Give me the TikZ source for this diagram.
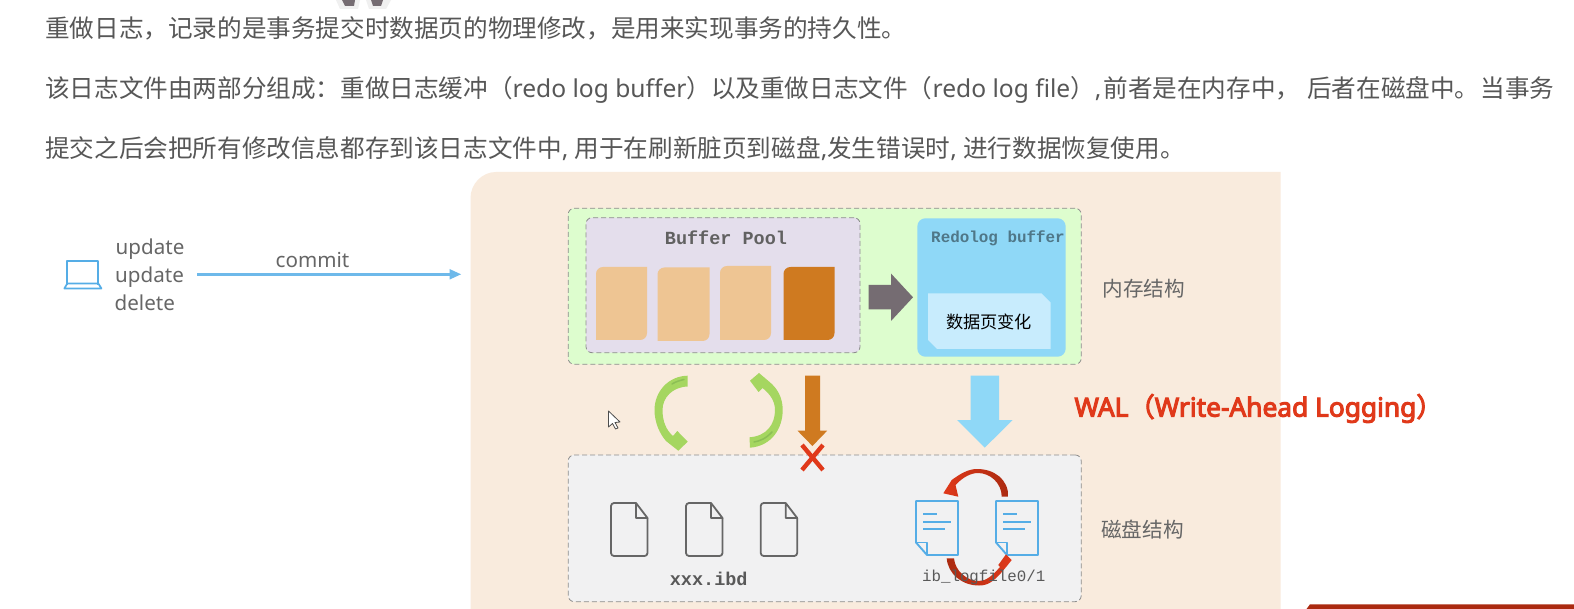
\documentclass[tikz,border=0pt]{standalone}
\usepackage{fontspec}
\setmainfont{Noto Sans}
\setmonofont{Liberation Mono}
\newfontfamily\cjk{Noto Sans CJK SC}
\newfontfamily\walfont[FakeBold=4]{Noto Sans}
\newfontfamily\walcjk[FakeBold=4]{Noto Sans CJK SC}
\definecolor{peach}{HTML}{F9EBDD}
\definecolor{memgreen}{HTML}{DDFDCE}
\definecolor{poolbg}{HTML}{E4DEEC}
\definecolor{pagel}{HTML}{EEC593}
\definecolor{paged}{HTML}{CF7A20}
\definecolor{skyb}{HTML}{8FD8F7}
\definecolor{skyl}{HTML}{C8ECFD}
\definecolor{diskbg}{HTML}{F1F1F2}
\definecolor{dashg}{HTML}{8C8C8C}
\definecolor{txtg}{HTML}{666666}
\definecolor{iconb}{HTML}{55ADE6}
\definecolor{leaf}{HTML}{A5D660}
\definecolor{leafd}{HTML}{8CBF55}
\definecolor{redx}{HTML}{E0391A}
\definecolor{redd}{HTML}{AB2A10}
\definecolor{greyarrow}{HTML}{756C72}
\tikzset{
  para/.style={anchor=base west,inner sep=0pt,text=txtg!85!black,font=\fontsize{24.6}{30}\selectfont},
  sidelabel/.style={anchor=west,inner sep=0pt,text=txtg,font=\cjk\fontsize{20.6}{24}\selectfont},
  optext/.style={anchor=base west,inner sep=0pt,text=txtg,font=\fontsize{20.6}{24}\selectfont},
  dashbox/.style={draw=dashg,line width=.8pt,dash pattern=on 5pt off 3pt,rounded corners=6pt},
  docline/.style={draw=iconb,line width=2pt},
  fileicon/.style={draw=black!60,line width=1.8pt,line join=round},
}
\newcommand{\pageshape}[5]{% x0 y0 x1 y1 colour
  \fill[#5] (#1,#4) -- (#3-7,#4) .. controls (#3-3,#4) and (#3,#4-3) .. (#3,#4-7) -- (#3,#2) -- (#1+7,#2) .. controls (#1+3,#2) and (#1,#2+3) .. (#1,#2+7) -- cycle;}
\newcommand{\fileshape}[1]{%
  \draw[fileicon,rounded corners=3pt] (#1+25,503) -- (#1,503) -- (#1,556) -- (#1+36.5,556) -- (#1+36.5,518);
  \draw[fileicon] (#1+25,503) -- (#1+36.5,518) -- (#1+25,518) -- cycle;}
\newcommand{\docshape}[1]{%
  \draw[iconb,line width=1.9pt,line join=round] (#1,501) -- (#1+42,501) -- (#1+42,555) -- (#1+11,555) -- (#1,542.5) -- cycle;
  \draw[iconb,line width=1.9pt,line join=round] (#1,542.5) -- (#1+11,542.5) -- (#1+11,555);
  \draw[docline] (#1+7,514) -- (#1+21,514);
  \draw[docline] (#1+7,521.5) -- (#1+35,521.5);
  \draw[docline] (#1+7,529) -- (#1+29,529);}
\begin{document}
\begin{tikzpicture}[x=1pt,y=-1pt]
\useasboundingbox (0,0) rectangle (1574,609);
\fill[white] (0,0) rectangle (1574,609);

% partial cursor at the top edge
\fill[black!6] (336,0) -- (340,9) -- (358,9) -- (360,0) -- cycle;
\fill[black!6] (366,0) -- (369,9) -- (386,9) -- (391,0) -- cycle;
\fill[greyarrow] (342,0) -- (345,6) -- (354,6) -- (355,0) -- cycle;
\fill[greyarrow] (371,0) -- (373,6) -- (381,6) -- (383,0) -- cycle;

% paragraphs
\node[para] (l1) at (45,38) {\cjk 重做日志，记录的是事务提交时数据页的物理修改，是用来实现事务的持久性。};
\node[para] (l2) at (45,98) {\cjk 该日志文件由两部分组成：重做日志缓冲（\normalfont redo log buffer\cjk ）以及重做日志文件（\normalfont redo log file\cjk ）\normalfont,\hspace{2pt}\cjk 前者是在内存中，\hspace{7pt}后者在磁盘中。\hspace{1pt}当事务};
\node[para] (l3) at (45,158) {\cjk 提交之后会把所有修改信息都存到该日志文件中\normalfont, \cjk 用于在刷新脏页到磁盘\normalfont,\cjk 发生错误时\normalfont, \cjk 进行数据恢复使用。};

% backdrop
\fill[peach] (470.5,609) -- (470.5,198) .. controls (470.5,184) and (482,172) .. (496,172) -- (1280.5,172) -- (1280.5,609) -- cycle;

% memory structure
\node[dashbox,fill=memgreen,minimum width=513pt,minimum height=156pt,inner sep=0pt] (mem) at (824.7,286.3) {};
\node[dashbox,fill=poolbg,minimum width=274pt,minimum height=135pt,inner sep=0pt] (pool) at (723,285.2) {};
\node[inner sep=0pt,text=black!62,font=\ttfamily\bfseries\fontsize{18.5}{22}\selectfont] (pooltext) at (726,238) {Buffer Pool};
\pageshape{596}{267}{647}{340}{pagel}
\pageshape{657.5}{267.5}{709.5}{341}{pagel}
\pageshape{720}{266}{771}{340}{pagel}
\pageshape{783.5}{267}{834.5}{340}{paged}
\fill[greyarrow] (868.5,285) -- (891,285) -- (891,273.5) -- (913,297.3) -- (891,321) -- (891,309.3) -- (868.5,309.3) -- cycle;
\node[fill=skyb,rounded corners=8pt,minimum width=148.3pt,minimum height=138.4pt,inner sep=0pt] (redo) at (991.5,287.5) {};
\node[inner sep=0pt,text=black!45!skyb,font=\ttfamily\fontsize{15.9}{19}\selectfont\bfseries] (redotext) at (998,238) {Redolog buffer};
\fill[skyl] (928.2,293.3) -- (1041.5,293.3) -- (1050.5,302.3) -- (1050.5,349) -- (937.2,349) -- (928.2,340) -- cycle;
\node[inner sep=0pt,text=black,font=\cjk\fontsize{17.2}{20}\selectfont] (change) at (989,321.5) {数据页变化};
\node[sidelabel] (memlabel) at (1102.3,289) {内存结构};

% commit row
\draw[iconb,line width=1.7pt,line join=round] (67.3,285) -- (67.3,261) -- (98.3,261) -- (98.3,285);
\draw[iconb,line width=1.7pt,line join=round] (67.3,283.5) -- (64.3,288.5) -- (101.5,288.5) -- (98.3,283.5) -- cycle;
\node[optext] (u1) at (115.5,255) {update};
\node[optext] (u2) at (115,283) {update};
\node[optext] (u3) at (114.5,311) {delete};
\coordinate (cstart) at (197.3,274.3);
\coordinate (cend) at (461,274.3);
\node[inner sep=0pt,text=txtg,font=\fontsize{20.6}{24}\selectfont] (commit) at (312.5,260) {commit};
\fill[iconb!85!white] (cend) -- (449.5,269) -- (449.5,279.6) -- cycle;
\draw[iconb!85!white,line width=2.6pt] (cstart) -- (450,274.3);

% disk
\node[dashbox,fill=diskbg,minimum width=513pt,minimum height=146.7pt,inner sep=0pt] (disk) at (824.7,528.3) {};
\fileshape{611}
\fileshape{686}
\fileshape{760.7}
\node[inner sep=0pt,text=black!65,font=\ttfamily\bfseries\fontsize{18.5}{22}\selectfont] (ibd) at (708.7,579) {xxx.ibd};
\docshape{916}
\docshape{996}
\shade[left color=redx,middle color=redx!90!white,right color=redd] (1008.3,496.7) .. controls (1008.3,479) and (994,469) .. (977,469) .. controls (968,469) and (960,474) .. (951.7,480) -- (943.3,493.3) -- (958.3,496.7) -- (955.5,485) .. controls (963,477) and (971,473) .. (978,473) .. controls (990,473) and (1001.7,483) .. (1001.7,496.7) -- cycle;
\shade[left color=redd,middle color=redx!90!white,right color=redx] (946.7,558.3) .. controls (948,574) and (962,585.5) .. (979,585.5) .. controls (990,585.5) and (996,580) .. (1011.7,560) -- (1006,554.3) -- (998.3,565) -- (1000,567) .. controls (992,576) and (986,581) .. (979,581) .. controls (967,581) and (955,571) .. (954,558.3) -- cycle;
\node[inner sep=0pt,text=black!65,font=\ttfamily\fontsize{15.8}{19}\selectfont] (logtext) at (983.7,577) {ib\_logfile0/1};
\node[sidelabel] (disklabel) at (1101,529.5) {磁盘结构};

% green circular arrows
\fill[leaf] (687.7,375.7) .. controls (668,376) and (654.5,392) .. (654.5,410) .. controls (654.5,423) and (660,434) .. (666,441) -- (678.3,450.7) -- (687.7,441.7) -- (677.3,431) -- (673,436) .. controls (666,430) and (662.5,421) .. (662.5,410) .. controls (662.5,398) and (672,387) .. (687.7,386.5) -- cycle;
\draw[leafd,line width=1.5pt,line cap=round] (672,384) .. controls (676,381.5) and (680,380.5) .. (684,379.5);
\fill[leaf] (750,447.7) .. controls (772,446) and (782.7,428) .. (782.7,410) .. controls (782.7,397) and (777,388) .. (769,381.5) -- (759,373) -- (750,380.7) -- (758.5,392) -- (762.5,388) .. controls (770,394) and (775,401) .. (775,410) .. controls (775,424) and (767,436) .. (749.5,437.3) -- cycle;
\draw[leafd,line width=1.5pt,line cap=round] (754,442) .. controls (760,441) and (766,438.5) .. (772,432);

% down arrows
\fill[paged] (805,375.7) -- (820,375.7) -- (820,430.7) -- (827.2,430.7) -- (812.4,446) -- (797.5,430.7) -- (805,430.7) -- cycle;
\fill[skyb] (970.5,375.7) -- (999.2,375.7) -- (999.2,420) -- (1012.7,420) -- (984.7,447.7) -- (957,420) -- (970.5,420) -- cycle;
\draw[redx,line width=4.4pt] (802,445) -- (823,470);
\draw[redx,line width=4.4pt] (823,445) -- (802,470);

% WAL
\node[anchor=west,inner sep=0pt,text=redx,font=\walfont\fontsize{26.3}{30}\selectfont] (wal) at (1074.3,408.5) {WAL{\walcjk （}Write-Ahead Logging{\walcjk ）}};

% mouse pointer
\draw[fill=white,draw=black!70,line width=.8pt,line join=round] (608.5,411) -- (608.5,427) -- (612.5,423.5) -- (615.5,429) -- (618,428) -- (615,422.5) -- (620,422) -- cycle;

% red bar at the bottom edge
\fill[redd] (1310,604.3) -- (1574,604.3) -- (1574,609) -- (1306.5,609) -- cycle;
\end{tikzpicture}
\end{document}
